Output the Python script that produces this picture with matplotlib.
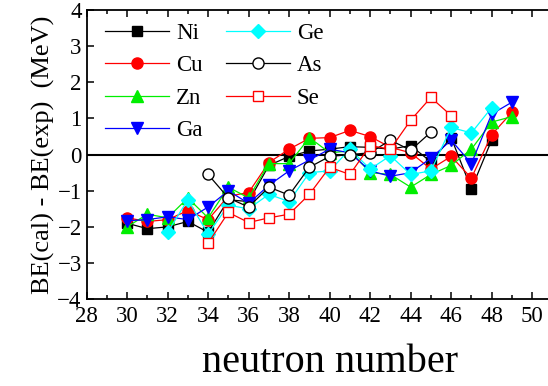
import matplotlib
matplotlib.use("Agg")
import matplotlib.pyplot as plt
from matplotlib.ticker import MultipleLocator, FixedLocator

plt.rcParams['font.family'] = 'Liberation Serif'

# BE(cal) - BE(exp) in MeV, one list per isotope chain
n_ni = list(range(30, 49))
be_ni = [-1.9, -2.05, -2.0, -1.85, -2.15, -1.25, -1.3, -0.3, -0.05, 0.1,
         0.15, 0.22, 0.2, 0.15, 0.25, -0.2, 0.47, -0.95, 0.4]

n_cu = list(range(30, 50))
be_cu = [-1.75, -1.85, -1.8, -1.55, -1.8, -1.15, -1.05, -0.22, 0.15, 0.45,
         0.47, 0.67, 0.5, 0.2, 0.05, -0.4, -0.05, -0.65, 0.55, 1.17]

n_zn = list(range(30, 50))
be_zn = [-2.0, -1.65, -1.75, -1.2, -1.75, -0.9, -1.2, -0.25, -0.25, 0.47,
         0.05, 0.1, -0.5, -0.55, -0.9, -0.55, -0.3, 0.15, 0.9, 1.05]

n_ga = list(range(30, 50))
be_ga = [-1.83, -1.8, -1.72, -1.8, -1.45, -1.0, -1.35, -0.85, -0.45, -0.15,
         0.15, 0.05, -0.45, -0.6, -0.5, -0.1, 0.4, -0.25, 1.12, 1.45]

n_ge = list(range(32, 49))
be_ge = [-2.15, -1.25, -2.2, -1.4, -1.5, -1.1, -1.3, -0.5, -0.45, 0.15,
         -0.4, -0.03, -0.55, -0.45, 0.75, 0.6, 1.3]

n_as = list(range(34, 46))
be_as = [-0.55, -1.2, -1.45, -0.9, -1.12, -0.35, -0.05, 0.0, 0.05, 0.4,
         0.12, 0.62]

n_se = list(range(34, 47))
be_se = [-2.45, -1.6, -1.88, -1.75, -1.65, -1.1, -0.35, -0.55, 0.25, 0.15,
         0.95, 1.58, 1.08]

x_major = [28, 30, 32, 34, 36, 38, 40, 42, 44, 46, 48, 50]

fig = plt.figure(figsize=(5.48, 3.86), dpi=100)
ax = fig.add_axes([0.158, 0.225, 0.887, 0.749])

ax.axhline(0, color='black', lw=1.5, zorder=1)

lw = 0.9
ax.plot(n_ni, be_ni, color='black', lw=lw, marker='s', ms=7.5, label='Ni')
ax.plot(n_cu, be_cu, color='red', lw=lw, marker='o', ms=8, label='Cu')
ax.plot(n_zn, be_zn, color='#00ee00', lw=lw, marker='^', ms=8.5, label='Zn')
ax.plot(n_ga, be_ga, color='blue', lw=lw, marker='v', ms=8.5, label='Ga')
ax.plot(n_ge, be_ge, color='cyan', lw=lw, marker='D', ms=7, label='Ge')
ax.plot(n_as, be_as, color='black', lw=lw, marker='o', ms=8,
        mfc='white', mec='black', label='As')
ax.plot(n_se, be_se, color='red', lw=lw, marker='s', ms=7.5,
        mfc='white', mec='red', label='Se')

ax.set_xlim(28, 52)
ax.set_ylim(-4, 4)
ax.xaxis.set_major_locator(FixedLocator(x_major))
ax.xaxis.set_minor_locator(MultipleLocator(1))
ax.yaxis.set_major_locator(MultipleLocator(1))
ax.tick_params(which='both', direction='in', top=True, right=True,
               labelsize=16.5, width=1.1)
ax.tick_params(which='major', length=5)
ax.tick_params(which='minor', length=3)
ax.tick_params(axis='x', pad=5)
for s in ax.spines.values():
    s.set_linewidth(1.3)

ax.set_xlabel('neutron number', fontsize=29, labelpad=12)
ax.set_ylabel('BE(cal) - BE(exp)  (MeV)', fontsize=19, labelpad=2)

ax.legend(ncol=2, loc='upper left', bbox_to_anchor=(0.012, 1.0), frameon=False,
          fontsize=16.5, numpoints=1, handlelength=2.8, handletextpad=0.3,
          columnspacing=1.0, labelspacing=0.5, borderaxespad=0.15)

fig.savefig('out.png', dpi=100)
